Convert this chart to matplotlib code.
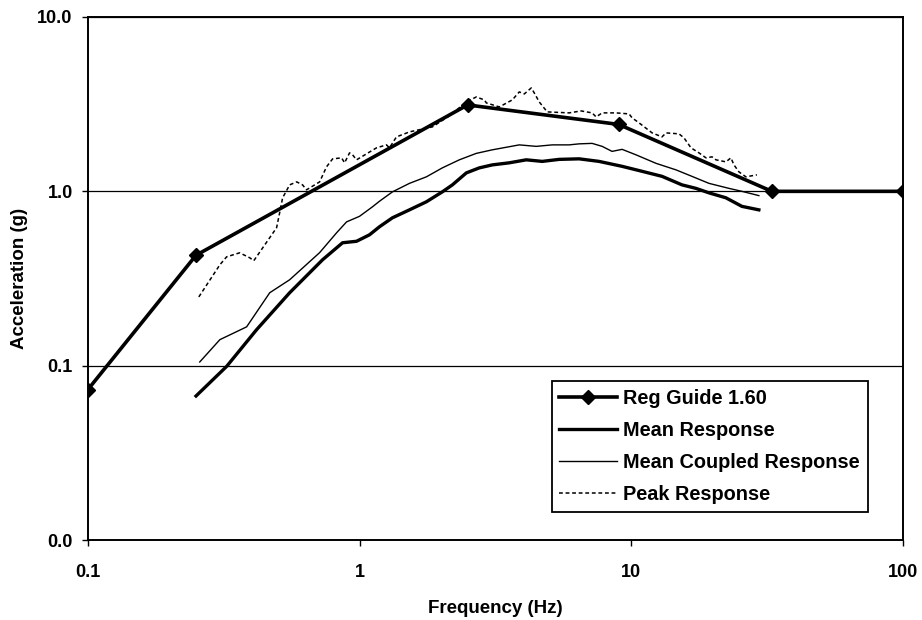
import matplotlib.pyplot as plt
import numpy as np
from matplotlib.ticker import FuncFormatter, FixedLocator, NullLocator

plt.rcParams['font.family'] = ['Liberation Sans', 'DejaVu Sans']
plt.rcParams['font.weight'] = 'bold'

# Reg Guide 1.60 design spectrum
reg_freq = [0.1, 0.25, 2.5, 9.0, 33.0, 100.0]
reg_acc = [0.073, 0.43, 3.13, 2.42, 1.0, 1.0]

# Mean Response
mean_freq = [0.25, 0.324, 0.418, 0.553, 0.731, 0.866, 0.975, 1.088, 1.184, 1.322,
             1.527, 1.763, 2.018, 2.198, 2.474, 2.761, 3.083, 3.557, 4.111, 4.709,
             5.433, 6.436, 7.621, 9.268, 10.97, 13.0, 15.4, 17.33, 19.36, 22.35,
             25.59, 29.55]
mean_acc = [0.067, 0.099, 0.161, 0.262, 0.405, 0.507, 0.517, 0.563, 0.626, 0.705,
            0.783, 0.871, 0.993, 1.089, 1.276, 1.363, 1.418, 1.457, 1.516, 1.485,
            1.525, 1.536, 1.485, 1.391, 1.303, 1.219, 1.089, 1.040, 0.980, 0.918,
            0.820, 0.783]

# Mean Coupled Response
coup_freq = [0.258, 0.306, 0.384, 0.467, 0.553, 0.713, 0.823, 0.896, 1.0, 1.116,
             1.184, 1.322, 1.527, 1.763, 2.018, 2.331, 2.692, 3.083, 3.875, 4.475,
             5.126, 5.916, 6.436, 7.186, 7.825, 8.511, 9.268, 10.43, 12.36, 14.63,
             16.75, 19.36, 22.93, 25.59, 29.55]
coup_acc = [0.105, 0.141, 0.167, 0.262, 0.311, 0.445, 0.578, 0.668, 0.719, 0.815,
            0.877, 0.993, 1.111, 1.211, 1.363, 1.516, 1.651, 1.730, 1.847, 1.811,
            1.847, 1.847, 1.872, 1.884, 1.811, 1.695, 1.741, 1.619, 1.447, 1.328,
            1.219, 1.111, 1.040, 1.0, 0.945]

# Peak Response
peak_freq = [0.256, 0.306, 0.324, 0.362, 0.394, 0.408, 0.495, 0.508, 0.521, 0.553,
             0.587, 0.617, 0.638, 0.713, 0.756, 0.796, 0.859, 0.881, 0.919, 0.943,
             0.975, 1.155, 1.257, 1.289, 1.368, 1.463, 1.527, 1.855, 2.142, 2.474,
             2.692, 2.882, 2.931, 3.271, 3.652, 3.875, 4.044, 4.290, 4.400, 4.590,
             4.911, 5.916, 6.549, 7.186, 7.435, 7.825, 8.810, 9.831, 10.09, 10.70,
             11.95, 13.00, 13.45, 15.02, 15.66, 16.62, 17.78, 18.87, 19.86, 20.54,
             22.35, 23.32, 23.92, 24.95, 26.48, 29.06]
peak_acc = [0.248, 0.379, 0.421, 0.444, 0.416, 0.400, 0.618, 0.753, 0.918, 1.089,
            1.133, 1.089, 1.020, 1.133, 1.382, 1.535, 1.556, 1.457, 1.662, 1.619,
            1.516, 1.776, 1.847, 1.776, 2.053, 2.136, 2.193, 2.342, 2.708, 3.257,
            3.479, 3.344, 3.215, 3.049, 3.344, 3.717, 3.620, 3.918, 3.668, 3.257,
            2.855, 2.818, 2.892, 2.818, 2.672, 2.818, 2.818, 2.780, 2.638, 2.470,
            2.164, 2.053, 2.164, 2.136, 2.026, 1.776, 1.662, 1.556, 1.577, 1.516,
            1.476, 1.556, 1.419, 1.293, 1.211, 1.243]

fig = plt.figure(figsize=(9.22, 6.2), dpi=100)
ax = fig.add_axes([0.0954, 0.129, 0.8836, 0.8436])

ax.plot(reg_freq, reg_acc, color='black', lw=2.6, marker='D', markersize=7.5,
        label='Reg Guide 1.60', zorder=5)
ax.plot(mean_freq, mean_acc, color='black', lw=2.4, label='Mean Response', zorder=4)
ax.plot(coup_freq, coup_acc, color='black', lw=1.0, label='Mean Coupled Response', zorder=4)
ax.plot(peak_freq, peak_acc, color='black', lw=1.1, linestyle=(0, (2.5, 1.8)),
        label='Peak Response', zorder=4)

ax.set_xscale('log')
ax.set_yscale('log')
ax.set_xlim(0.1, 100)
ax.set_ylim(0.01, 10)

ax.xaxis.set_major_locator(FixedLocator([0.1, 1, 10, 100]))
ax.yaxis.set_major_locator(FixedLocator([0.01, 0.1, 1, 10]))
ax.xaxis.set_minor_locator(NullLocator())
ax.yaxis.set_minor_locator(NullLocator())
ax.xaxis.set_major_formatter(FuncFormatter(lambda v, p: '{:g}'.format(v)))
ax.yaxis.set_major_formatter(FuncFormatter(lambda v, p: '{:.1f}'.format(v)))
ax.tick_params(axis='both', direction='out', length=4, width=1, labelsize=13)
ax.tick_params(axis='x', pad=13)
ax.tick_params(axis='y', pad=7)

ax.yaxis.grid(True, color='black', lw=0.9)
ax.set_axisbelow(True)
for s in ax.spines.values():
    s.set_linewidth(1.4)

ax.set_xlabel('Frequency (Hz)', fontsize=13.5, fontweight='bold', labelpad=14)
ax.set_ylabel('Acceleration (g)', fontsize=13.5, fontweight='bold', labelpad=7)

leg = ax.legend(loc='lower right', bbox_to_anchor=(0.957, 0.054), fontsize=14.3,
                frameon=True, fancybox=False, edgecolor='black', framealpha=1,
                handlelength=2.9, handletextpad=0.3, labelspacing=0.66,
                borderpad=0.4, borderaxespad=0)
leg.get_frame().set_linewidth(1.3)

plt.savefig('out.png', dpi=100)
